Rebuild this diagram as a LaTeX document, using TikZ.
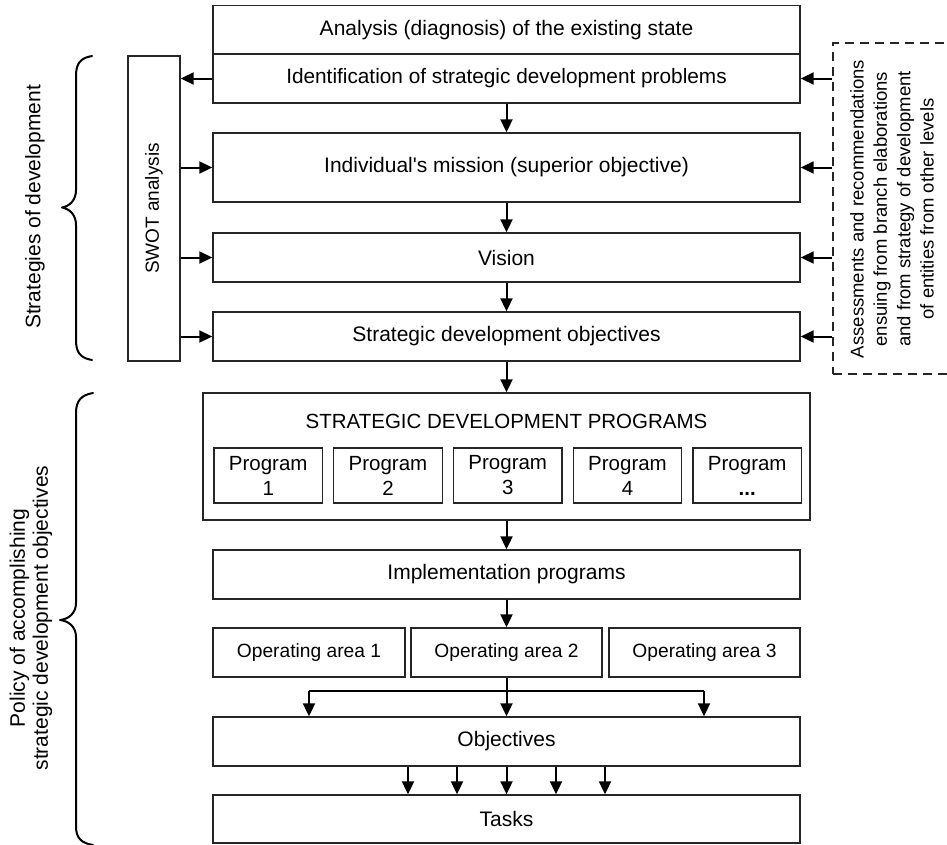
\documentclass[tikz,border=0pt]{standalone}
\usepackage{fontspec}
\setmainfont{Liberation Sans}
% same face without TeX quote mapping, for a straight apostrophe
\newfontfamily\straightfont{Liberation Sans}
\usetikzlibrary{arrows.meta}
\begin{document}
\begin{tikzpicture}[x=1pt,y=-1pt,
  box/.style={draw=black!85, line width=1.4pt, inner sep=0pt, minimum width=587pt, minimum height=49pt, align=center, font=\fontsize{21}{24}\selectfont},
  progbox/.style={draw=black!85, line width=1.4pt, inner sep=0pt, minimum width=108.5pt, minimum height=55pt, align=center, font=\fontsize{20.5}{25}\selectfont},
  areabox/.style={draw=black!85, line width=1.4pt, inner sep=0pt, minimum width=191pt, minimum height=49pt, font=\fontsize{19.2}{22}\selectfont},
  arr/.style={line width=2pt, -{Triangle[length=13pt,width=12pt]}},
  bracelabel/.style={rotate=90, align=center, font=\fontsize{21}{23}\selectfont},
  brace/.style={line width=2pt, line cap=round, line join=round}]
\useasboundingbox (0,0) rectangle (947,844);

% main column: strategy section
\node[box] (analysis) at (506.5,30) {Analysis (diagnosis) of the existing state};
\node[box, font=\fontsize{20.8}{24}\selectfont] (ident) at (506.5,78.5) {Identification of strategic development problems};
\node[box, minimum height=69pt] (mission) at (506.5,167.5) {Individual{\straightfont'}s mission (superior objective)};
\node[box] (vision) at (506.5,257.5) {Vision};
\node[box] (stratobj) at (506.5,336.5) {Strategic development objectives};

% SWOT column
\node[draw=black!85, line width=1.4pt, minimum width=52pt, minimum height=305pt, inner sep=0pt] (swot) at (154,208.5) {};
\node[rotate=90, font=\fontsize{19}{22}\selectfont] (swottext) at (swot.center) {SWOT analysis};

% external inputs (dashed frame runs off the right edge)
\node[draw=black!85, line width=1.3pt, dash pattern=on 9pt off 6pt, minimum width=160pt, minimum height=331pt, inner sep=0pt] (inputs) at (913,208.5) {};
\node[rotate=90, align=center, font=\fontsize{18.5}{23.3}\selectfont] (inputstext) at (892,209) {Assessments and recommendations\\ensuing from branch elaborations\\and from strategy of development\\of entities from other levels};

% programs section
\node[draw=black!85, line width=1.4pt, minimum width=607pt, minimum height=127pt, inner sep=0pt] (programs) at (506.5,456.5) {};
\node[font=\fontsize{20.5}{23}\selectfont] (progtitle) at (506.5,421) {STRATEGIC DEVELOPMENT PROGRAMS};
\node[progbox] (p1) at (268.25,475.5) {Program\\1};
\node[progbox] (p2) at (388,475.5) {Program\\2};
\node[progbox] (p3) at (507.75,475.5) {Program\\3};
\node[progbox] (p4) at (627.5,475.5) {Program\\4};
\node[progbox] (p5) at (747.25,475.5) {Program\\\textbf{...}};

\node[box] (impl) at (506.5,574.5) {Implementation programs};
\node[areabox, minimum width=192pt] (oa1) at (309,652.5) {Operating area 1};
\node[areabox] (oa2) at (506.5,652.5) {Operating area 2};
\node[areabox] (oa3) at (704.5,652.5) {Operating area 3};
\node[box] (objectives) at (506.5,741.5) {Objectives};
\node[box, minimum height=48pt] (tasks) at (506.5,819) {Tasks};

% vertical flow
\draw[arr] (ident) -- (mission);
\draw[arr] (mission) -- (vision);
\draw[arr] (vision) -- (stratobj);
\draw[arr] (stratobj) -- (programs);
\draw[arr] (programs) -- (impl);
\draw[arr] (impl) -- (oa2);

% SWOT links
\draw[arr] (ident.west) -- (swot.east |- ident.west);
\draw[arr] (swot.east |- mission.west) -- (mission.west);
\draw[arr] (swot.east |- vision.west) -- (vision.west);
\draw[arr] (swot.east |- stratobj.west) -- (stratobj.west);

% external inputs links
\draw[arr] (inputs.west |- ident.east) -- (ident.east);
\draw[arr] (inputs.west |- mission.east) -- (mission.east);
\draw[arr] (inputs.west |- vision.east) -- (vision.east);
\draw[arr] (inputs.west |- stratobj.east) -- (stratobj.east);

% operating areas to objectives
\coordinate (split) at (506.5,691);
\coordinate (splitL) at (309,691);
\coordinate (splitR) at (704,691);
\draw[line width=2pt] (oa2.south) -- (split);
\draw[line width=2pt] (splitL) -- (splitR);
\draw[arr] (split) -- (objectives.north);
\draw[arr] (splitL) -- (splitL |- objectives.north);
\draw[arr] (splitR) -- (splitR |- objectives.north);

% objectives to tasks
\foreach \xx in {408,457,506.5,556,605}
  \draw[arr] (objectives.south -| \xx,0) -- (tasks.north -| \xx,0);

% braces
\draw[brace] (92,56) .. controls (80,58) and (76,64) .. (76,76) -- (76,190)
  .. controls (76,200) and (70,206) .. (62,207.5)
  .. controls (70,209) and (76,215) .. (76,225) -- (76,340)
  .. controls (76,352) and (80,358) .. (92,360);
\draw[brace] (93,393) .. controls (81,395) and (76,401) .. (76,413) -- (76,603)
  .. controls (76,613) and (69,619) .. (60,620)
  .. controls (69,621) and (76,627) .. (76,637) -- (76,826)
  .. controls (76,838) and (81,843) .. (93,845);

\node[bracelabel] (stratlabel) at (35,207) {Strategies of development};
\node[bracelabel] (policylabel) at (31,618) {Policy of accomplishing\\strategic development objectives};
\end{tikzpicture}
\end{document}
